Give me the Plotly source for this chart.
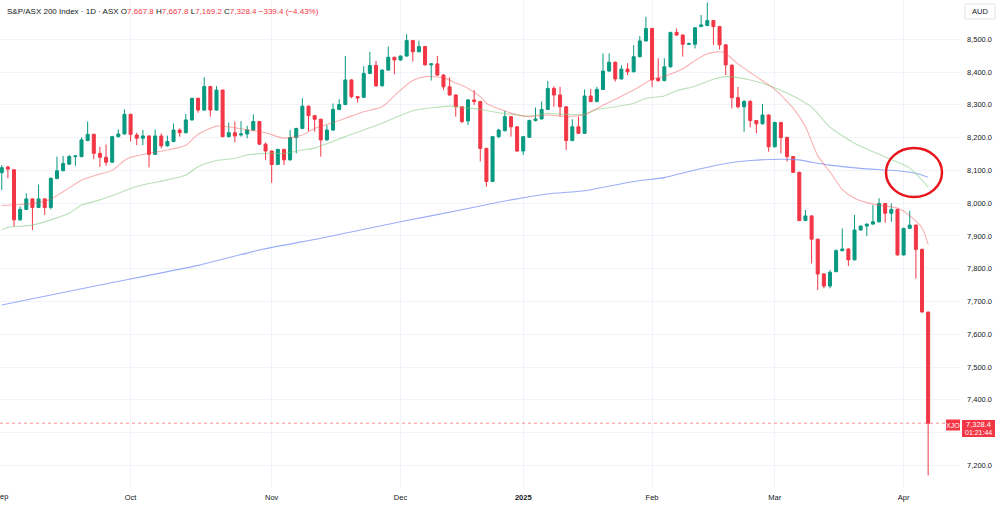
import pandas as pd
import plotly.graph_objects as go

# ---------------- data ----------------
holidays = ["2024-12-25", "2024-12-26", "2025-01-01", "2025-01-27"]
dates = [d for d in pd.bdate_range("2024-09-02", "2025-04-07")
         if d.strftime("%Y-%m-%d") not in holidays]

opens = [8093, 8110, 8102, 7949, 7981, 8013, 7987, 8013, 7987, 8075,
         8099, 8119, 8142, 8142, 8191, 8210, 8152, 8140, 8125, 8203,
         8211, 8271, 8208, 8198, 8205, 8149, 8205, 8175, 8188, 8223,
         8215, 8254, 8320, 8284, 8356, 8284, 8345, 8203, 8215, 8208,
         8211, 8223, 8249, 8180, 8159, 8118, 8164, 8132, 8200, 8228,
         8296, 8267, 8256, 8193, 8223, 8286, 8301, 8376, 8325, 8323,
         8396, 8420, 8358, 8406, 8445, 8437, 8449, 8496, 8462, 8478,
         8422, 8425, 8391, 8355, 8330, 8294, 8251, 8315, 8310, 8167,
         8066, 8203, 8221, 8264, 8233, 8159, 8201, 8252, 8257, 8286,
         8350, 8330, 8294, 8191, 8233, 8213, 8327, 8310, 8347, 8403,
         8430, 8379, 8409, 8401, 8447, 8495, 8533, 8381, 8374, 8416,
         8521, 8513, 8485, 8485, 8539, 8542, 8557, 8539, 8483, 8421,
         8322, 8294, 8310, 8252, 8242, 8269, 8172, 8246, 8200, 8142,
         8094, 7947, 7961, 7890, 7784, 7747, 7791, 7855, 7860, 7827,
         7918, 7930, 7936, 7943, 7999, 7969, 7981, 7842, 7923, 7933,
         7859, 7667.8]
highs = [8116, 8114, 8104, 7990, 8030, 8015, 8057, 8015, 8078, 8142,
         8144, 8147, 8147, 8201, 8249, 8212, 8172, 8179, 8205, 8225,
         8286, 8273, 8215, 8223, 8207, 8225, 8213, 8206, 8243, 8228,
         8272, 8321, 8322, 8384, 8358, 8357, 8347, 8246, 8249, 8250,
         8236, 8271, 8251, 8185, 8161, 8166, 8166, 8223, 8230, 8320,
         8298, 8269, 8258, 8238, 8304, 8317, 8449, 8378, 8327, 8418,
         8462, 8434, 8408, 8478, 8447, 8450, 8516, 8498, 8496, 8480,
         8427, 8449, 8393, 8384, 8332, 8296, 8317, 8345, 8312, 8169,
         8205, 8227, 8282, 8266, 8235, 8205, 8255, 8292, 8310, 8373,
         8357, 8355, 8296, 8256, 8264, 8347, 8348, 8355, 8457, 8457,
         8432, 8421, 8427, 8482, 8510, 8569, 8535, 8442, 8442, 8523,
         8533, 8515, 8490, 8537, 8574, 8612, 8559, 8541, 8485, 8423,
         8355, 8315, 8315, 8254, 8303, 8271, 8249, 8248, 8203, 8144,
         8096, 7979, 7963, 7892, 7786, 7796, 7859, 7923, 7862, 7964,
         7932, 7938, 7994, 8015, 8001, 7999, 7983, 7925, 7977, 7935,
         7861, 7667.8]
lows = [8040, 8076, 7928, 7946, 7979, 7918, 7985, 7964, 7981, 8073,
        8097, 8117, 8114, 8140, 8189, 8134, 8111, 8114, 8123, 8200,
        8209, 8188, 8177, 8177, 8109, 8147, 8167, 8172, 8186, 8203,
        8213, 8252, 8276, 8282, 8264, 8282, 8201, 8201, 8186, 8203,
        8198, 8221, 8178, 8132, 8062, 8116, 8116, 8130, 8152, 8226,
        8220, 8218, 8142, 8190, 8221, 8284, 8299, 8320, 8307, 8321,
        8394, 8355, 8356, 8404, 8393, 8435, 8447, 8432, 8460, 8420,
        8374, 8388, 8345, 8328, 8264, 8244, 8238, 8300, 8127, 8050,
        8064, 8198, 8219, 8203, 8157, 8147, 8199, 8249, 8255, 8284,
        8294, 8264, 8162, 8189, 8212, 8211, 8308, 8308, 8345, 8401,
        8371, 8377, 8391, 8399, 8445, 8493, 8355, 8370, 8372, 8414,
        8510, 8447, 8482, 8472, 8537, 8540, 8483, 8469, 8391, 8289,
        8289, 8218, 8231, 8213, 8240, 8157, 8170, 8152, 8127, 8092,
        7945, 7945, 7816, 7735, 7740, 7740, 7789, 7853, 7808, 7825,
        7916, 7900, 7934, 7941, 7940, 7943, 7840, 7840, 7921, 7770,
        7666, 7169.2]
closes = [8108, 8104, 7949, 7981, 8013, 7987, 8013, 7987, 8076, 8099,
          8121, 8142, 8144, 8193, 8210, 8152, 8140, 8125, 8203, 8211,
          8271, 8210, 8198, 8205, 8149, 8205, 8175, 8188, 8223, 8215,
          8254, 8320, 8284, 8356, 8284, 8345, 8203, 8215, 8205, 8211,
          8223, 8249, 8180, 8159, 8118, 8164, 8132, 8200, 8228, 8296,
          8267, 8256, 8193, 8223, 8286, 8301, 8376, 8325, 8321, 8396,
          8420, 8358, 8406, 8445, 8437, 8449, 8496, 8462, 8478, 8422,
          8425, 8391, 8355, 8330, 8294, 8249, 8315, 8310, 8167, 8066,
          8203, 8223, 8264, 8233, 8159, 8203, 8252, 8257, 8286, 8350,
          8330, 8294, 8191, 8233, 8213, 8327, 8310, 8347, 8403, 8430,
          8379, 8409, 8401, 8447, 8495, 8533, 8376, 8374, 8416, 8521,
          8513, 8485, 8487, 8535, 8544, 8557, 8539, 8483, 8422, 8322,
          8294, 8310, 8252, 8242, 8269, 8172, 8246, 8200, 8142, 8094,
          7947, 7961, 7890, 7784, 7747, 7789, 7855, 7860, 7827, 7918,
          7930, 7936, 7943, 7999, 7969, 7981, 7842, 7923, 7933, 7859,
          7667.8, 7328.4]

# moving averages (bar index, value)
ma_fast_idx = [0, 3, 5, 8, 10, 13, 16, 18, 20, 21, 24, 27, 30, 32, 35, 38, 40, 43,
               46, 49, 51, 54, 56, 59, 62, 65, 67, 69, 72, 74, 76, 78, 79, 81, 84,
               86, 89, 92, 95, 97, 100, 103, 106, 108, 111, 113, 115, 117, 118,
               120, 123, 126, 129, 131, 133, 135, 137, 139, 142, 146, 148, 150, 151]
ma_fast_val = [7993, 7996, 7999, 8012, 8035, 8070, 8089, 8100, 8130, 8140, 8152,
               8162, 8177, 8210, 8235, 8230, 8224, 8215, 8198, 8208, 8228, 8246,
               8259, 8279, 8294, 8345, 8374, 8386, 8383, 8367, 8350, 8325, 8305,
               8288, 8270, 8264, 8269, 8264, 8270, 8289, 8317, 8345, 8378, 8387,
               8410, 8435, 8456, 8462, 8457, 8425, 8386, 8347, 8290, 8233, 8145,
               8095, 8042, 8015, 7997, 7985, 7962, 7925, 7874]

ma_mid_idx = [0, 1, 5, 8, 11, 13, 16, 19, 21, 24, 27, 30, 32, 35, 38, 40, 43, 46,
              49, 51, 56, 62, 67, 73, 75, 78, 81, 84, 86, 89, 92, 95, 97, 100, 103,
              105, 108, 110, 113, 116, 118, 120, 122, 124, 128, 132, 135, 139, 144,
              148, 151]
ma_mid_val = [7918, 7926, 7933, 7949, 7969, 7994, 8010, 8030, 8045, 8060, 8071,
              8086, 8111, 8130, 8137, 8147, 8152, 8152, 8162, 8168, 8203, 8244,
              8282, 8296, 8292, 8286, 8276, 8269, 8266, 8274, 8271, 8271, 8286,
              8294, 8305, 8320, 8327, 8343, 8357, 8378, 8386, 8383, 8376, 8366,
              8336, 8293, 8232, 8183, 8141, 8107, 8049]

ma_slow_idx = [0, 16, 32, 42, 52, 65, 75, 83, 89, 95, 103, 108, 113, 118, 122,
               127, 130, 132, 135, 140, 146, 149, 151]
ma_slow_val = [7689, 7750, 7810, 7857, 7893, 7943, 7980, 8010, 8028, 8038, 8066,
               8078, 8101, 8121, 8130, 8134, 8132, 8125, 8116, 8106, 8099, 8091,
               8079]

month_labels = ["Sep", "Oct", "Nov", "Dec", "<b>2025</b>", "Feb", "Mar", "Apr"]
price_ticks = [7200, 7300, 7400, 7500, 7600, 7700, 7800, 7900,
               8000, 8100, 8200, 8300, 8400, 8500]
last_price = 7328.4

# ---------------- figure ----------------
UP = "#089981"
DOWN = "#F23645"
FONT = "Liberation Sans Narrow, Liberation Sans, Arial, sans-serif"
W, H = 1000, 507
ML, MR, MT, MB = 0, 40, 0, 19
PW, PH = W - ML - MR, H - MT - MB


def px(xp):
    return (xp - ML) / PW


def py(yp):
    return 1 - (yp - MT) / PH


xs = list(range(len(dates)))
month_pos = []
seen = set()
for i, d in enumerate(dates):
    key = (d.year, d.month)
    if key not in seen:
        seen.add(key)
        month_pos.append(i)

fig = go.Figure()
fig.add_trace(go.Scatter(x=ma_slow_idx, y=ma_slow_val, mode="lines",
                         line=dict(color="rgba(120,145,245,0.75)", width=1.1, shape="spline", smoothing=0.6),
                         hoverinfo="skip"))
fig.add_trace(go.Scatter(x=ma_mid_idx, y=ma_mid_val, mode="lines",
                         line=dict(color="rgba(130,200,125,0.55)", width=1.1, shape="spline", smoothing=0.6),
                         hoverinfo="skip"))
fig.add_trace(go.Scatter(x=ma_fast_idx, y=ma_fast_val, mode="lines",
                         line=dict(color="rgba(242,80,80,0.45)", width=1.1, shape="spline", smoothing=0.6),
                         hoverinfo="skip"))
fig.add_trace(go.Candlestick(
    x=xs, open=opens, high=highs, low=lows, close=closes,
    increasing=dict(line=dict(color=UP, width=1), fillcolor=UP),
    decreasing=dict(line=dict(color=DOWN, width=1), fillcolor=DOWN),
    whiskerwidth=0, hoverinfo="skip"))

x_lo = (0 - 1.76) / 6.135
x_hi = (PW - 1.76) / 6.135
y_top = 8500 + 39.3 / 0.3277
y_bot = 8500 - (PH - 39.3) / 0.3277

fig.update_layout(
    width=W, height=H, margin=dict(l=ML, r=MR, t=MT, b=MB),
    paper_bgcolor="white", plot_bgcolor="white", showlegend=False,
    font=dict(family=FONT, color="#131722", size=7.5),
    xaxis=dict(range=[x_lo, x_hi], tickvals=month_pos[1:], ticktext=month_labels[1:],
               showgrid=True, gridcolor="#f0f3fa", gridwidth=1, zeroline=False,
               showline=False, ticks="", rangeslider=dict(visible=False),
               tickfont=dict(size=7.5, color="#131722", family=FONT), ticklabelstandoff=3),
    yaxis=dict(range=[y_bot, y_top], side="right", tickvals=price_ticks,
               ticktext=[f"{v:,.1f}" for v in price_ticks],
               showgrid=True, gridcolor="#f0f3fa", gridwidth=1, zeroline=False,
               showline=False, ticks="", tickfont=dict(size=7.5, color="#131722", family=FONT),
               ticklabelstandoff=6),
)

# first month label, partly cut by the left edge as in the original
fig.add_annotation(xref="x", yref="paper", x=month_pos[0], y=py(496), text=month_labels[0],
                   showarrow=False, font=dict(size=7.5, color="#131722", family=FONT),
                   xanchor="center", yanchor="middle")

# last price dotted line
fig.add_shape(type="line", xref="paper", yref="y", x0=0, x1=px(946), y0=last_price, y1=last_price,
              line=dict(color="rgba(242,54,69,0.55)", width=1, dash="dot"))

# highlight circle
fig.add_shape(type="circle", xref="paper", yref="paper",
              x0=px(886), x1=px(942), y0=py(197), y1=py(148),
              line=dict(color="#E8141B", width=2.5))

# boxes on the price scale
fig.add_shape(type="rect", xref="paper", yref="paper", x0=px(962), x1=px(995),
              y0=py(437), y1=py(420), fillcolor=DOWN, line=dict(width=0))
fig.add_shape(type="rect", xref="paper", yref="paper", x0=px(946), x1=px(960),
              y0=py(430.5), y1=py(419.5), fillcolor=DOWN, line=dict(width=0))
fig.add_shape(type="rect", xref="paper", yref="paper", x0=px(965), x1=px(995),
              y0=py(19), y1=py(4), fillcolor="white", line=dict(color="#e0e3eb", width=1))

fig.add_annotation(xref="paper", yref="paper", x=px(978.5), y=py(424.5), text="7,328.4",
                   showarrow=False, font=dict(size=7.5, color="white", family=FONT),
                   xanchor="center", yanchor="middle")
fig.add_annotation(xref="paper", yref="paper", x=px(978.5), y=py(432.5), text="01:21:44",
                   showarrow=False, font=dict(size=7, color="white", family=FONT),
                   xanchor="center", yanchor="middle")
fig.add_annotation(xref="paper", yref="paper", x=px(953), y=py(425), text="XJO",
                   showarrow=False, font=dict(size=7, color="white", family=FONT),
                   xanchor="center", yanchor="middle")
fig.add_annotation(xref="paper", yref="paper", x=px(980), y=py(11.5), text="AUD",
                   showarrow=False, font=dict(size=7.5, color="#131722", family=FONT),
                   xanchor="center", yanchor="middle")

red = "#F23645"
title = ("S&P/ASX 200 Index · 1D · ASX "
         f"O<span style='color:{red}'>7,667.8</span> "
         f"H<span style='color:{red}'>7,667.8</span> "
         f"L<span style='color:{red}'>7,169.2</span> "
         f"C<span style='color:{red}'>7,328.4</span> "
         f"<span style='color:{red}'>−339.4 (−4.43%)</span>")
fig.add_annotation(xref="paper", yref="paper", x=px(5), y=py(11), text=title, showarrow=False,
                   font=dict(size=8, color="#131722", family=FONT), xanchor="left", yanchor="middle")

fig.write_html("out.html")
